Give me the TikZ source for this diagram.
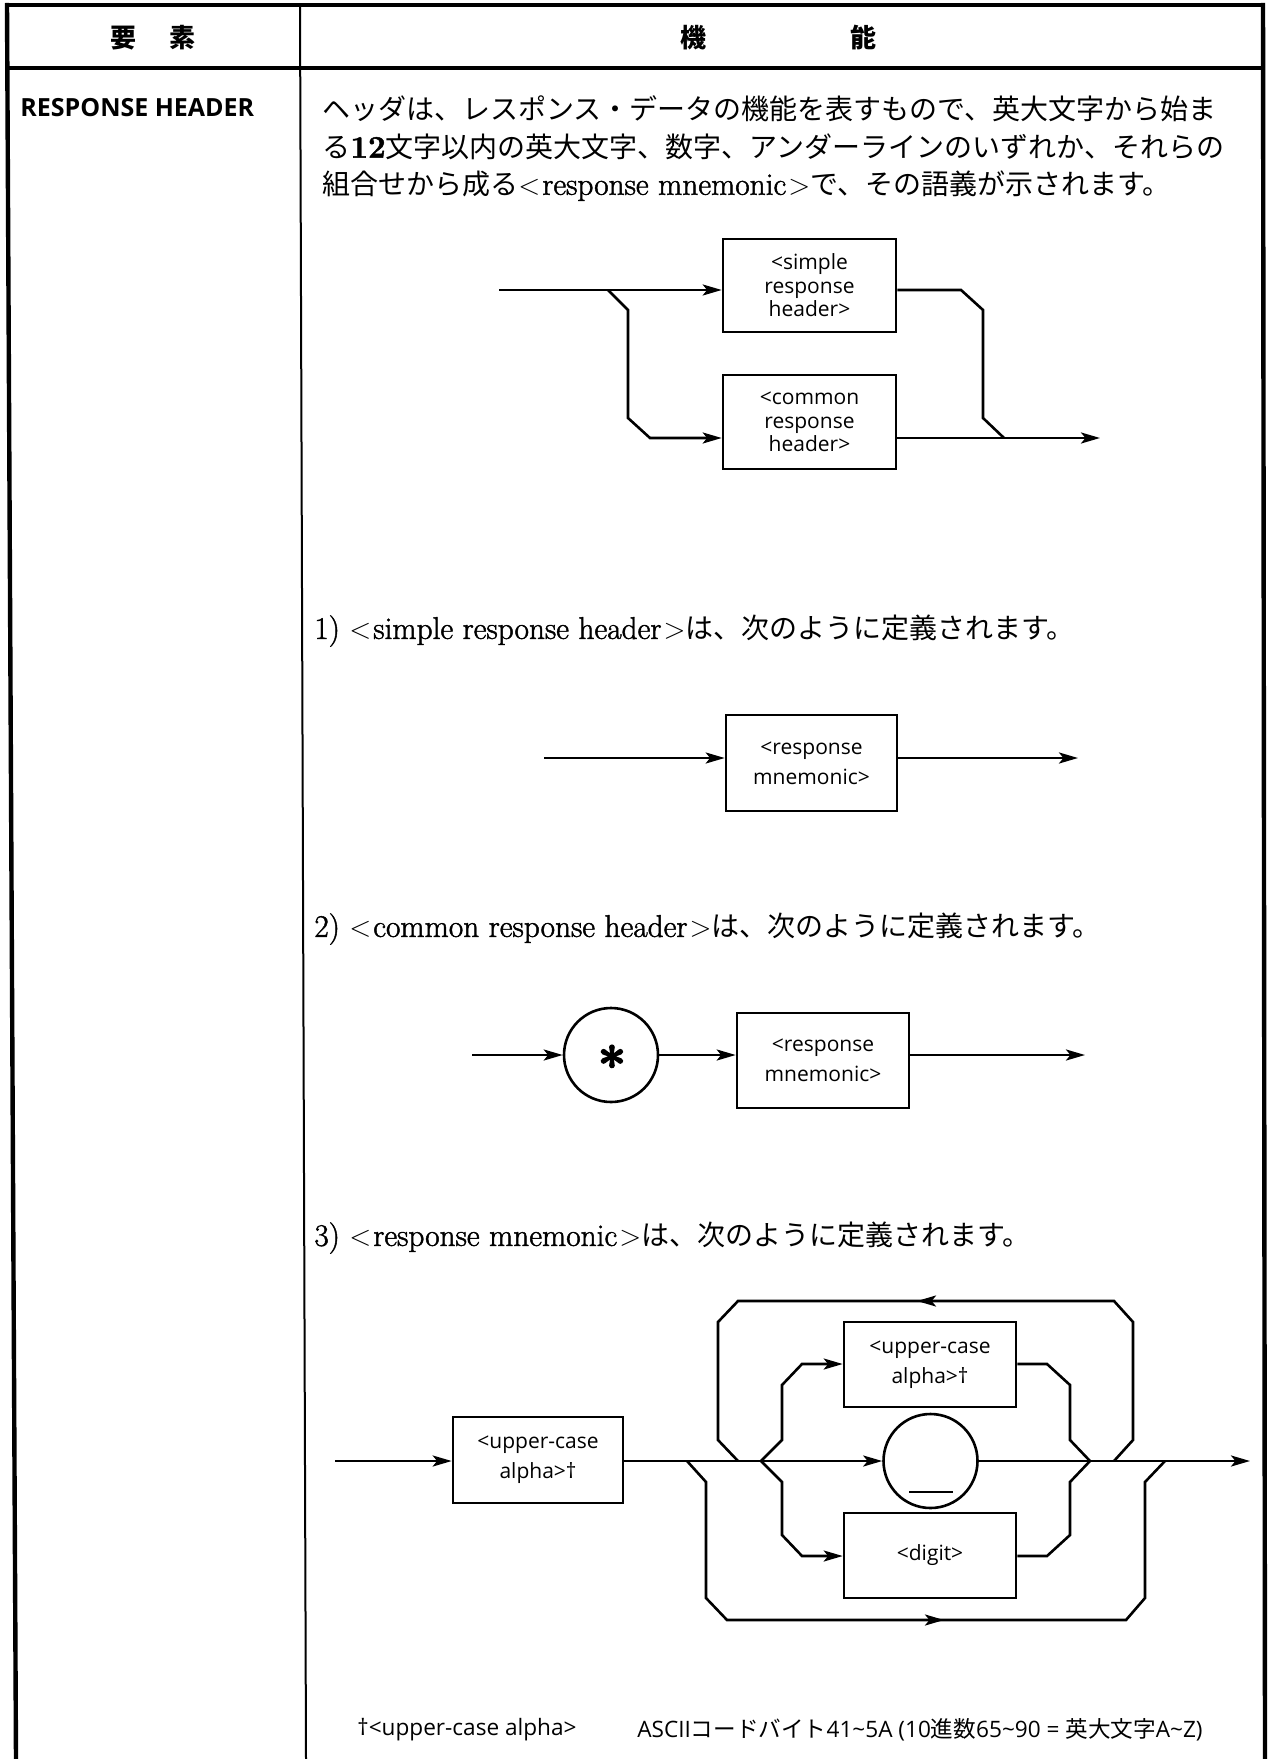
\documentclass[tikz,border=0pt]{standalone}
\usepackage{fontspec}
\usetikzlibrary{arrows.meta}
\setmainfont{Latin Modern Roman}[FakeBold=1.5,Scale=1.12]
\newfontfamily\jfont{Noto Sans CJK JP}
\newfontfamily\sfont{Open Sans}
\newfontfamily\astfont{Latin Modern Roman}[FakeBold=3]
\newcommand{\J}[1]{{\jfont #1}}
\newcommand{\lt}{\ensuremath{<}\kern1pt}
\newcommand{\gt}{\kern1pt\ensuremath{>}}

\tikzset{
  tbl/.style={line width=2.2pt},
  colrule/.style={line width=1pt},
  flow/.style={line width=1.3pt, line join=miter},
  arr/.style={flow, -{Stealth[length=9.5pt,width=5.5pt,inset=2.2pt]}},
  box/.style={draw, line width=1.3pt, align=center, inner sep=0pt,
    font=\sfont\fontsize{10.5}{15}\selectfont},
  termnode/.style={draw, circle, line width=1.3pt, inner sep=0pt},
  body/.style={anchor=west, inner sep=0pt, font=\fontsize{14}{16}\selectfont},
  note/.style={anchor=west, inner sep=0pt, font=\sfont\fontsize{11.3}{13}\selectfont},
}

\begin{document}
\begin{tikzpicture}[x=0.5pt,y=-0.5pt]
\useasboundingbox (0,0) rectangle (1272,1759);

% table frame
\draw[tbl] (7,5) -- (1264,5);
\draw[tbl] (7,3) -- (16,1759);
\draw[tbl] (1263,3) -- (1265,1759);
\draw[tbl] (7,68) -- (1264,68);
\draw[colrule] (300,5) -- (306,1759);

% column titles
\node[font=\jfont\bfseries\fontsize{13}{13}\selectfont] (hdA) at (153,38) {要\hspace{17pt}素};
\node[font=\jfont\bfseries\fontsize{13}{13}\selectfont] (hdB) at (778,38) {機\hspace{72pt}能};

% element name
\node[anchor=west, inner sep=0pt, font=\sfont\bfseries\fontsize{12.5}{14}\selectfont] (elem) at (20,108) {RESPONSE HEADER};

% description
\node[body] (p1) at (322,109) {\J{ヘッダは、レスポンス・データの機能を表すもので、英大文字から始ま}};
\node[body] (p2) at (322,147) {\J{る}\textbf{12}\J{文字以内の英大文字、数字、アンダーラインのいずれか、それらの}};
\node[body] (p3) at (322,186) {\J{組合せから成る}\lt response mnemonic\gt\J{で、その語義が示されます。}};

% ---- response header: simple or common ----
\node[box, minimum width=86.5pt, minimum height=46.5pt, font=\sfont\fontsize{10.5}{11.75}\selectfont]
  (srh) at (809.5,285.5) {<simple\\response\\header>};
\node[box, minimum width=86.5pt, minimum height=47pt, font=\sfont\fontsize{10.5}{11.75}\selectfont]
  (crh) at (809.5,422) {<common\\response\\header>};
\coordinate (a0) at (499,290);
\coordinate (a1) at (608,290);
\coordinate (a2) at (628,310);
\coordinate (a3) at (628,418);
\coordinate (a4) at (650,438);
\coordinate (a5) at (961,290);
\coordinate (a6) at (983,310);
\coordinate (a7) at (983,418);
\coordinate (a8) at (1004,438);
\coordinate (a9) at (1100,438);
\draw[arr] (a0) -- (srh.west |- a0);
\draw[arr] (a1) -- (a2) -- (a3) -- (a4) -- (crh.west |- a4);
\draw[flow] (srh.east |- a5) -- (a5) -- (a6) -- (a7) -- (a8);
\draw[arr] (crh.east |- a8) -- (a9);

% ---- 1) simple response header ----
\node[body] (t1) at (314,631) {1)\ \lt simple response header\gt\J{は、次のように定義されます。}};
\node[box, minimum width=85.5pt, minimum height=48pt] (rm1) at (811.5,763) {<response\\mnemonic>};
\coordinate (b0) at (544,758);
\coordinate (b1) at (1078,758);
\draw[arr] (b0) -- (rm1.west |- b0);
\draw[arr] (rm1.east |- b1) -- (b1);

% ---- 2) common response header ----
\node[body] (t2) at (314,929) {2)\ \lt common response header\gt\J{は、次のように定義されます。}};
\node[termnode, minimum size=47pt] (ast) at (611,1055) {};
\node[inner sep=0pt, font=\astfont\bfseries\fontsize{25}{25}\selectfont] (astsym) at (612,1064) {*};
\node[box, minimum width=86pt, minimum height=47.5pt] (rm2) at (823,1060.5) {<response\\mnemonic>};
\coordinate (c0) at (472,1055);
\coordinate (c1) at (1085,1055);
\draw[arr] (c0) -- (ast);
\draw[arr] (ast) -- (rm2.west |- ast);
\draw[arr] (rm2.east |- c1) -- (c1);

% ---- 3) response mnemonic ----
\node[body] (t3) at (314,1238) {3)\ \lt response mnemonic\gt\J{は、次のように定義されます。}};
\node[box, minimum width=85pt, minimum height=43pt] (ua1) at (538,1460) {<upper-case\\alpha>†};
\node[box, minimum width=86pt, minimum height=42.5pt] (ua2) at (930,1364.5) {<upper-case\\alpha>†};
\node[termnode, minimum size=47pt] (usc) at (930.5,1461) {};
\node[inner sep=0pt] (usl) at (931,1492) {\rule{22pt}{1.4pt}};
\node[box, minimum width=86pt, minimum height=42.5pt] (dig) at (930,1555.5) {<digit>};

\coordinate (d0) at (335,1461);
\coordinate (d9) at (1250,1461);
% bypass loop below
\coordinate (e0) at (687,1461);
\coordinate (e1) at (706,1482);
\coordinate (e2) at (706,1598);
\coordinate (e3) at (727,1620);
\coordinate (e4) at (1126,1620);
\coordinate (e5) at (1145,1598);
\coordinate (e6) at (1145,1482);
\coordinate (e7) at (1165,1461);
\coordinate (em) at (944,1620);
% repeat loop above
\coordinate (f0) at (1114,1461);
\coordinate (f1) at (1133,1440);
\coordinate (f2) at (1133,1322);
\coordinate (f3) at (1114,1301);
\coordinate (f4) at (738,1301);
\coordinate (f5) at (718,1322);
\coordinate (f6) at (718,1440);
\coordinate (f7) at (738,1461);
\coordinate (fm) at (917,1301);
% inner branches
\coordinate (g0) at (761,1461);
\coordinate (g1) at (782,1440);
\coordinate (g2) at (782,1385);
\coordinate (g3) at (802,1364);
\coordinate (g4) at (782,1482);
\coordinate (g5) at (782,1535);
\coordinate (g6) at (802,1556);
\coordinate (h0) at (1047,1364);
\coordinate (h1) at (1070,1385);
\coordinate (h2) at (1070,1440);
\coordinate (h3) at (1090,1461);
\coordinate (h4) at (1047,1556);
\coordinate (h5) at (1070,1535);
\coordinate (h6) at (1070,1482);

\draw[arr] (d0) -- (ua1.west |- d0);
\draw[arr] (ua1.east |- d0) -- (usc);
\draw[arr] (usc) -- (d9);
\draw[flow] (e0) -- (e1) -- (e2) -- (e3) -- (e4) -- (e5) -- (e6) -- (e7);
\draw[arr] (e3) -- (em);
\draw[flow] (f0) -- (f1) -- (f2) -- (f3) -- (f4) -- (f5) -- (f6) -- (f7);
\draw[arr] (f3) -- (fm);
\draw[arr] (g0) -- (g1) -- (g2) -- (g3) -- (ua2.west |- g3);
\draw[arr] (g0) -- (g4) -- (g5) -- (g6) -- (dig.west |- g6);
\draw[flow] (ua2.east |- h0) -- (h0) -- (h1) -- (h2) -- (h3);
\draw[flow] (dig.east |- h4) -- (h4) -- (h5) -- (h6) -- (h3);

% footnote
\node[note] (fn1) at (357,1730) {†<upper-case alpha>};
\node[note] (fn2) at (637,1730) {ASCII\J{コードバイト}41\textasciitilde 5A (10\J{進数}65\textasciitilde 90 = \J{英大文字}A\textasciitilde Z)};
\end{tikzpicture}
\end{document}
